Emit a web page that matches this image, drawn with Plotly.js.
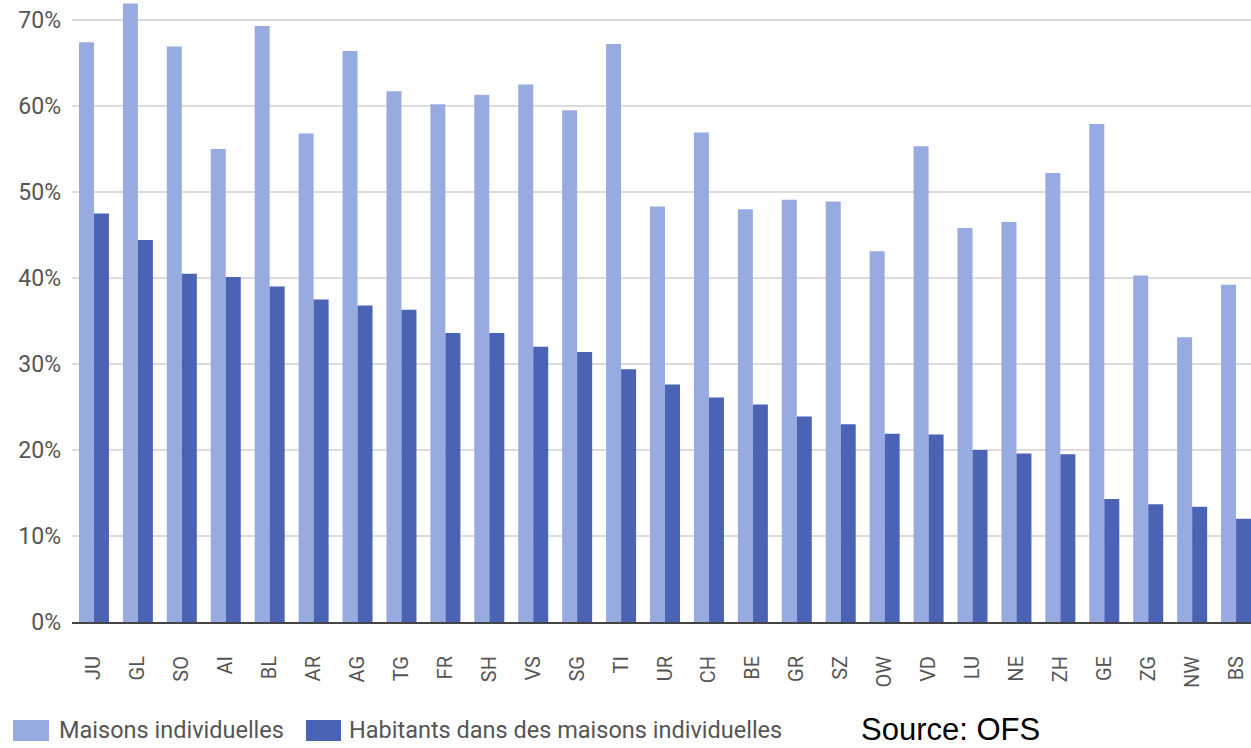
<!DOCTYPE html>
<html>
<head>
<meta charset="utf-8">
<script src="https://cdn.plot.ly/plotly-3.0.1.min.js"></script>
<style>
  html, body { margin: 0; padding: 0; background: #ffffff; overflow: hidden; }
  #chart { width: 1251px; height: 748px; }
</style>
</head>
<body>
<div id="chart"></div>
<script>
// ---- Data ----
const cantons = ["JU","GL","SO","AI","BL","AR","AG","TG","FR","SH","VS","SG","TI","UR","CH","BE","GR","SZ","OW","VD","LU","NE","ZH","GE","ZG","NW","BS"];
const maisonsIndividuelles = [67.4,71.9,66.9,55.0,69.3,56.8,66.4,61.7,60.2,61.3,62.5,59.5,67.2,48.3,56.9,48.0,49.1,48.9,43.1,55.3,45.8,46.5,52.2,57.9,40.3,33.1,39.2];
const habitantsMaisonsIndividuelles = [47.5,44.4,40.5,40.1,39.0,37.5,36.8,36.3,33.6,33.6,32.0,31.4,29.4,27.6,26.1,25.3,23.9,23.0,21.9,21.8,20.0,19.6,19.5,14.3,13.7,13.4,12.0];
const seriesNames = ["Maisons individuelles", "Habitants dans des maisons individuelles"];
const yTickValues = [0,10,20,30,40,50,60,70];
const yTickLabels = ["0%","10%","20%","30%","40%","50%","60%","70%"];
const sourceText = "Source: OFS";

// ---- Styles ----
const lightColor = "#97ABE1";
const darkColor = "#4A63B5";
const W = 1251, H = 748;
const M = {l: 72, r: 0, t: 1, b: 126};
const plotW = W - M.l - M.r, plotH = H - M.t - M.b;
const px = x => (x - M.l) / plotW;          // pixel x -> paper x
const py = y => (H - M.b - y) / plotH;      // pixel y -> paper y

const traces = [
  {type: "bar", name: seriesNames[0], x: cantons, y: maisonsIndividuelles,
   marker: {color: lightColor}, showlegend: false, hoverinfo: "x+y"},
  {type: "bar", name: seriesNames[1], x: cantons, y: habitantsMaisonsIndividuelles,
   marker: {color: darkColor}, showlegend: false, hoverinfo: "x+y"}
];

const legendItems = [
  {sw: [13, 49], tx: 57, color: lightColor, text: seriesNames[0]},
  {sw: [306, 341], tx: 347, color: darkColor, text: seriesNames[1]}
];

const shapes = legendItems.map(it => ({
  type: "rect", xref: "paper", yref: "paper",
  x0: px(it.sw[0]), x1: px(it.sw[1]), y0: py(741), y1: py(720),
  fillcolor: it.color, line: {width: 0}
}));

const annotations = legendItems.map(it => ({
  xref: "paper", yref: "paper", x: px(it.tx), y: py(730),
  xanchor: "left", yanchor: "middle", showarrow: false,
  text: it.text, font: {family: "Roboto, sans-serif", size: 23.5, color: "#555555"}
}));
annotations.push({
  xref: "paper", yref: "paper", x: px(859), y: py(730),
  xanchor: "left", yanchor: "middle", showarrow: false,
  text: sourceText, font: {family: "Liberation Sans, Arial, sans-serif", size: 31, color: "#000000"}
});

const layout = {
  width: W, height: H,
  margin: M,
  paper_bgcolor: "#ffffff", plot_bgcolor: "#ffffff",
  barmode: "group", bargap: 0.317, bargroupgap: 0,
  showlegend: false,
  xaxis: {
    type: "category",
    range: [-0.5, 26.34],
    tickangle: -90,
    showgrid: false, zeroline: false,
    showline: true, linecolor: "#444444", linewidth: 2,
    ticks: "", ticklabelstandoff: 24,
    tickfont: {family: "Roboto, sans-serif", size: 20, color: "#555555"}
  },
  yaxis: {
    range: [0, 72.2],
    tickmode: "array", tickvals: yTickValues, ticktext: yTickLabels,
    showgrid: true, gridcolor: "#dcdcdc", gridwidth: 1.8,
    zeroline: false, showline: false, ticks: "",
    ticklabelstandoff: 10,
    tickfont: {family: "Roboto, sans-serif", size: 23, color: "#555555"}
  },
  shapes: shapes,
  annotations: annotations
};

Plotly.newPlot("chart", traces, layout, {displayModeBar: false, staticPlot: true});
</script>
</body>
</html>
